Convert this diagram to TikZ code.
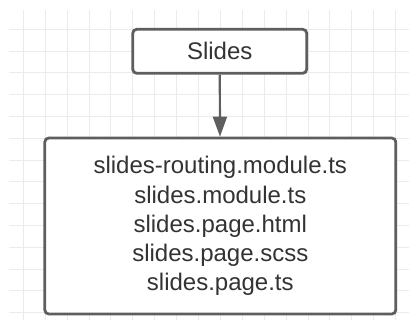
\documentclass[tikz,border=0pt]{standalone}
\usepackage{fontspec}
\setmainfont{Liberation Sans}
\usetikzlibrary{positioning,arrows.meta}
\definecolor{boxgray}{HTML}{5E5E5E}
\definecolor{textgray}{HTML}{333333}
\definecolor{gridgray}{HTML}{EBEBEB}
\tikzset{
  gridline/.style={draw=gridgray,line width=0.9pt},
  box/.style={rectangle,draw=boxgray,line width=2.8pt,rounded corners=4pt,fill=white,
              text=textgray,inner sep=0,align=center,font=\fontsize{24}{29.2}\selectfont},
  arrow/.style={-{Triangle[length=20pt,width=14pt]},draw=boxgray,line width=2.2pt},
}
\begin{document}
\begin{tikzpicture}[x=1pt,y=-1pt]
  \useasboundingbox (0,0) rectangle (409,320);
  % background grid
  \foreach \i in {0,...,17}
    \draw[gridline] (23.3+21.9*\i,10) -- (23.3+21.9*\i,320);
  \foreach \j in {0,...,13}
    \draw[gridline] (9,29.3+21.8*\j) -- (409,29.3+21.8*\j);
  % the folder and the files in it
  \node[box,minimum width=174pt,minimum height=44pt] (slides) at (219.7,51.3) {Slides};
  \node[box,minimum width=351pt,minimum height=176pt] (files) at (220.3,226) {%
    slides-routing.module.ts\\
    slides.module.ts\\
    slides.page.html\\
    slides.page.scss\\
    slides.page.ts};
  \draw[arrow] (slides) -- (files);
\end{tikzpicture}
\end{document}
